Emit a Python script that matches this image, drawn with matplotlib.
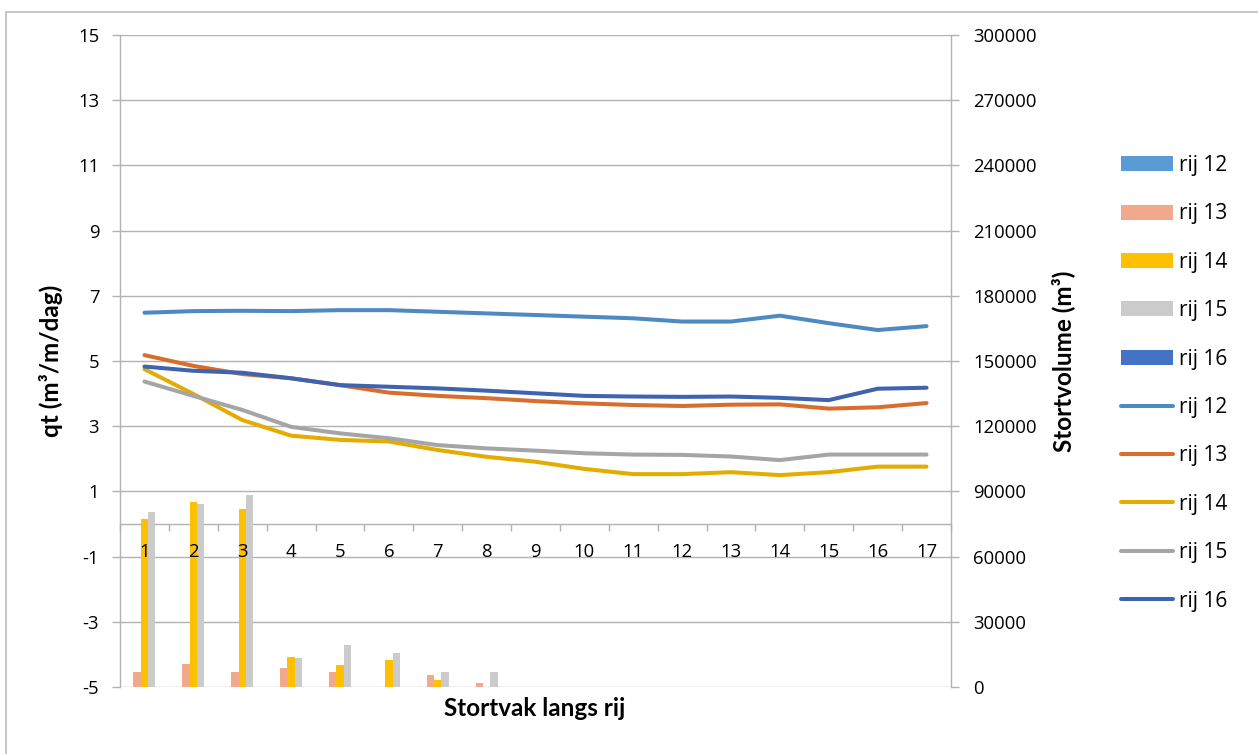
import matplotlib
matplotlib.use("Agg")
import matplotlib.pyplot as plt
from matplotlib.lines import Line2D
from matplotlib.patches import Patch, Rectangle
import numpy as np

plt.rcParams["axes.unicode_minus"] = False

# ---- data ----
categories = list(range(1, 18))
series_names = ["rij 12", "rij 13", "rij 14", "rij 15", "rij 16"]

vol_rij12 = [0] * 17
vol_rij13 = [6900, 10400, 6900, 8700, 7000, 0, 5500, 2000, 0, 0, 0, 0, 0, 0, 0, 0, 0]
vol_rij14 = [77200, 85000, 81900, 13700, 10100, 12400, 3400, 0, 0, 0, 0, 0, 0, 0, 0, 0, 0]
vol_rij15 = [80700, 84100, 88300, 13500, 19400, 15700, 6900, 6900, 0, 0, 0, 0, 0, 0, 0, 0, 0]
vol_rij16 = [0] * 17

qt_rij12 = [6.48, 6.53, 6.54, 6.53, 6.56, 6.56, 6.51, 6.46, 6.41, 6.36, 6.31, 6.21, 6.21, 6.39, 6.16, 5.95, 6.07]
qt_rij13 = [5.18, 4.85, 4.60, 4.47, 4.26, 4.03, 3.93, 3.86, 3.77, 3.70, 3.65, 3.62, 3.66, 3.67, 3.54, 3.58, 3.71]
qt_rij14 = [4.75, 3.99, 3.19, 2.71, 2.58, 2.53, 2.27, 2.06, 1.91, 1.69, 1.53, 1.53, 1.59, 1.50, 1.59, 1.76, 1.76]
qt_rij15 = [4.37, 3.93, 3.50, 2.98, 2.78, 2.63, 2.42, 2.32, 2.25, 2.17, 2.13, 2.12, 2.07, 1.96, 2.13, 2.13, 2.13]
qt_rij16 = [4.83, 4.70, 4.64, 4.47, 4.26, 4.21, 4.16, 4.09, 4.01, 3.93, 3.91, 3.90, 3.91, 3.87, 3.80, 4.15, 4.18]

left_ticks = list(range(-5, 16, 2))
right_ticks = list(range(0, 300001, 30000))

vols = [vol_rij12, vol_rij13, vol_rij14, vol_rij15, vol_rij16]
qts = [qt_rij12, qt_rij13, qt_rij14, qt_rij15, qt_rij16]

bar_colors = ["#5B9BD5", "#F2A98B", "#FFC000", "#CBCBCB", "#4472C4"]
line_colors = ["#4E8AC2", "#D86E2E", "#E4AB00", "#A5A5A5", "#3E63AF"]
grid_color = "#B2B2B2"

W, H = 1258, 754
fig = plt.figure(figsize=(W / 100, H / 100), dpi=100)
fig.patch.set_facecolor("white")

# outer chart border (left & top visible)
fig.add_artist(Rectangle((5.5 / W, -0.05), 1.2, (748 - 6) / H + 0.05,
                         transform=fig.transFigure, fill=False, edgecolor="#BDBDBD", lw=1.2))

ax = fig.add_axes([120 / W, (H - 687) / H, (951 - 120) / W, 652 / H])
ax2 = ax.twinx()

x = np.array(categories, dtype=float)

# lines on primary axis
for name, vals, c in zip(series_names, qts, line_colors):
    ax.plot(x, vals, color=c, lw=2.9, solid_capstyle="round", solid_joinstyle="round", zorder=3)

# bars on secondary axis
bw = 0.15
for i, (name, vals, c) in enumerate(zip(series_names, vols, bar_colors)):
    ax2.bar(x + (i - 2) * bw, vals, width=bw, color=c, linewidth=0, zorder=2)

ax.set_xlim(0.5, 17.5)
ax.set_ylim(-5, 15)
ax2.set_ylim(0, 300000)

ax.set_yticks(left_ticks)
ax2.set_yticks(right_ticks)
ax.yaxis.grid(True, color=grid_color, lw=1.0)
ax.set_axisbelow(True)

# category axis crossing at 0
ax.spines["bottom"].set_position(("data", 0))
for a in (ax, ax2):
    a.spines["top"].set_visible(False)
    for s in ("left", "right", "bottom"):
        a.spines[s].set_color(grid_color)
        a.spines[s].set_linewidth(1.0)
ax2.spines["bottom"].set_visible(False)
ax.spines["right"].set_visible(False)
ax2.spines["left"].set_visible(False)

# category ticks at boundaries; labels drawn on top of bars
ax.set_xticks(categories)
ax.set_xticklabels([])
ax.set_xticks(np.arange(0.5, 17.6, 1.0), minor=True)
ax.tick_params(axis="x", which="major", length=0)
ax.tick_params(axis="x", which="minor", length=5, color=grid_color, direction="out", width=1.0)
for c in categories:
    ax2.text(c, -0.86, str(c), transform=ax.transData, ha="center", va="center",
             fontfamily="Open Sans", fontsize=13.3, zorder=10)

for lab in ax.get_yticklabels() + ax2.get_yticklabels():
    lab.set_fontfamily("Open Sans")
    lab.set_fontsize(13.3)
ax.tick_params(axis="y", length=6, color=grid_color, width=1.0, pad=9)
ax2.tick_params(axis="y", length=6, color=grid_color, width=1.0, pad=10)

ax.set_ylabel("qt (m³/m/dag)", fontfamily="Lato", fontweight="bold", fontsize=17.5)
ax.yaxis.set_label_coords((63 - 120) / 831, 0.5)
ax2.set_ylabel("Stortvolume (m³)", fontfamily="Lato", fontweight="bold", fontsize=17.5)
ax2.yaxis.set_label_coords((1063 - 120) / 831, 0.5)
ax2.yaxis.label.set_rotation(90)
ax2.yaxis.label.set_va("center")

fig.text(535 / W, 1 - 709 / H, "Stortvak langs rij", fontfamily="Lato", fontweight="bold",
         fontsize=17.5, ha="center", va="center")

# legend
handles = [Patch(facecolor=c, edgecolor="none") for c in bar_colors]
handles += [Line2D([0], [0], color=c, lw=2.9, solid_capstyle="round") for c in line_colors]
labels = series_names + series_names
leg = fig.legend(handles, labels, loc="upper left", bbox_to_anchor=(1121 / W, 1 - 155 / H),
                 frameon=False, prop=dict(family="Open Sans", size=15),
                 handlelength=2.5, handleheight=0.72, handletextpad=0.3,
                 labelspacing=1.315, borderpad=0, borderaxespad=0)

fig.savefig("out.png", dpi=100, facecolor="white")
